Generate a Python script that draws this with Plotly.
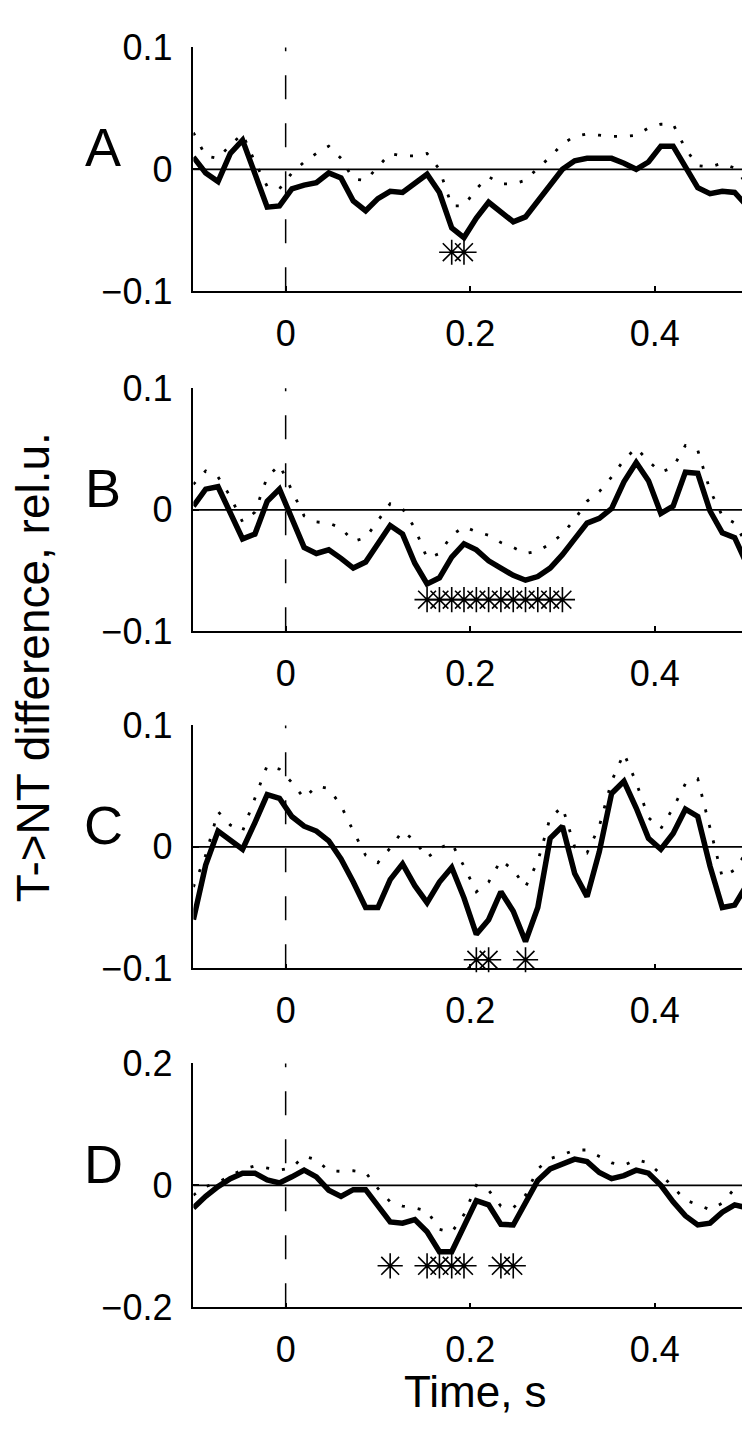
import plotly.graph_objects as go

# ---- data ----
time_s = [-0.1, -0.0867, -0.0733, -0.06, -0.0467, -0.0333, -0.02, -0.0067, 0.0067, 0.02,
          0.0333, 0.0467, 0.06, 0.0733, 0.0867, 0.1, 0.1133, 0.1267, 0.14, 0.1533,
          0.1667, 0.18, 0.1933, 0.2067, 0.22, 0.2333, 0.2467, 0.26, 0.2733, 0.2867,
          0.3, 0.3133, 0.3267, 0.34, 0.3533, 0.3667, 0.38, 0.3933, 0.4067, 0.42,
          0.4333, 0.4467, 0.46, 0.4733, 0.4867, 0.5, 0.5133]

panel_labels = ["A", "B", "C", "D"]

diff_A = [0.010, -0.003, -0.010, 0.013, 0.024, -0.004, -0.031, -0.030, -0.016, -0.013,
          -0.011, -0.003, -0.007, -0.026, -0.034, -0.024, -0.018, -0.019, -0.012, -0.004,
          -0.019, -0.048, -0.056, -0.040, -0.027, -0.035, -0.043, -0.039, -0.026, -0.012,
          0.000, 0.007, 0.009, 0.009, 0.009, 0.005, 0.000, 0.006, 0.019, 0.019,
          0.002, -0.015, -0.020, -0.018, -0.019, -0.030, -0.052]
bound_A = [0.030, 0.011, 0.009, 0.020, 0.029, 0.006, -0.014, -0.016, -0.003, 0.006,
           0.013, 0.019, 0.009, -0.008, -0.009, 0.002, 0.013, 0.011, 0.011, 0.013,
           0.000, -0.030, -0.030, -0.016, -0.006, -0.012, -0.012, -0.009, 0.001, 0.010,
           0.021, 0.027, 0.029, 0.028, 0.027, 0.027, 0.028, 0.034, 0.037, 0.037,
           0.017, 0.003, 0.002, 0.005, 0.001, -0.012, -0.020]

diff_B = [0.003, 0.017, 0.019, -0.003, -0.024, -0.020, 0.007, 0.017, -0.007, -0.031,
          -0.036, -0.033, -0.040, -0.048, -0.043, -0.027, -0.013, -0.020, -0.044, -0.061,
          -0.056, -0.039, -0.028, -0.033, -0.042, -0.048, -0.054, -0.058, -0.055, -0.048,
          -0.037, -0.024, -0.011, -0.007, 0.001, 0.023, 0.039, 0.024, -0.003, 0.003,
          0.031, 0.030, -0.001, -0.019, -0.023, -0.045, -0.074]
bound_B = [0.021, 0.032, 0.027, 0.011, -0.010, -0.002, 0.027, 0.037, 0.016, -0.005,
           -0.010, -0.011, -0.015, -0.026, -0.023, -0.009, 0.005, 0.001, -0.015, -0.040,
           -0.036, -0.021, -0.014, -0.018, -0.021, -0.027, -0.031, -0.036, -0.034, -0.028,
           -0.020, -0.008, 0.007, 0.015, 0.027, 0.041, 0.051, 0.040, 0.031, 0.035,
           0.053, 0.049, 0.016, -0.005, -0.011, -0.029, -0.052]

diff_C = [-0.060, -0.015, 0.013, 0.005, -0.002, 0.020, 0.043, 0.040, 0.025, 0.017,
          0.013, 0.005, -0.010, -0.029, -0.050, -0.050, -0.027, -0.014, -0.032, -0.046,
          -0.029, -0.017, -0.042, -0.072, -0.060, -0.037, -0.053, -0.078, -0.050, 0.007,
          0.017, -0.022, -0.041, -0.004, 0.044, 0.054, 0.032, 0.007, -0.002, 0.011,
          0.031, 0.025, -0.016, -0.050, -0.048, -0.031, -0.031]
bound_C = [-0.033, -0.007, 0.029, 0.018, 0.013, 0.040, 0.067, 0.064, 0.053, 0.040,
           0.050, 0.048, 0.034, 0.013, -0.007, -0.013, -0.001, 0.013, 0.005, -0.009,
           -0.001, 0.003, -0.016, -0.037, -0.029, -0.011, -0.019, -0.033, -0.012, 0.024,
           0.033, 0.000, -0.005, 0.017, 0.054, 0.077, 0.053, 0.024, 0.015, 0.032,
           0.052, 0.056, 0.016, -0.025, -0.019, -0.004, -0.003]

diff_D = [-0.037, -0.018, -0.002, 0.011, 0.020, 0.020, 0.009, 0.004, 0.014, 0.025,
          0.014, -0.008, -0.018, -0.007, -0.007, -0.032, -0.060, -0.062, -0.056, -0.076,
          -0.109, -0.109, -0.066, -0.025, -0.032, -0.064, -0.065, -0.029, 0.008, 0.027,
          0.036, 0.043, 0.039, 0.021, 0.011, 0.016, 0.025, 0.020, 0.000, -0.027,
          -0.050, -0.065, -0.062, -0.044, -0.032, -0.037, -0.046]
bound_D = [-0.016, -0.002, 0.005, 0.016, 0.026, 0.032, 0.028, 0.025, 0.029, 0.048,
           0.042, 0.024, 0.023, 0.024, 0.021, -0.005, -0.027, -0.034, -0.037, -0.042,
           -0.072, -0.077, -0.048, 0.000, -0.008, -0.034, -0.037, -0.016, 0.027, 0.044,
           0.050, 0.058, 0.058, 0.048, 0.037, 0.033, 0.042, 0.037, 0.018, -0.003,
           -0.024, -0.032, -0.040, -0.029, -0.005, -0.016, -0.024]

sig_t_A = [0.18, 0.1933]
sig_t_B = [0.1533, 0.1667, 0.18, 0.1933, 0.2067, 0.22, 0.2333, 0.2467, 0.26, 0.2733, 0.2867, 0.3]
sig_t_C = [0.2067, 0.22, 0.26]
sig_t_D = [0.1133, 0.1533, 0.1667, 0.18, 0.1933, 0.2333, 0.2467]
sig_level = [-0.068, -0.074, -0.093, -0.132]

y_limits = [0.1, 0.1, 0.1, 0.2]
x_ticks = [0, 0.2, 0.4]
x_range = [-0.1, 0.512]

diffs = [diff_A, diff_B, diff_C, diff_D]
bounds = [bound_A, bound_B, bound_C, bound_D]
sigs = [sig_t_A, sig_t_B, sig_t_C, sig_t_D]

# ---- layout geometry (pixels) ----
W, H = 750, 1431
panel_px = [(20, 271), (371, 621), (718, 968), (1066, 1317)]
FONT = "Liberation Sans, Arial, sans-serif"

fig = go.Figure()
layout = dict(
    width=W, height=H,
    margin=dict(l=0, r=0, t=0, b=0),
    paper_bgcolor="white", plot_bgcolor="white",
    showlegend=False,
    font=dict(family=FONT, color="black", size=36),
)
shapes = []
annotations = []

x_left = 185.4 / W
for k in range(4):
    n = "" if k == 0 else str(k + 1)
    xa, ya = "x" + n, "y" + n
    top, bot = panel_px[k]
    dom = [1 - bot / H, 1 - top / H]
    lim = y_limits[k]

    fig.add_trace(go.Scatter(x=time_s, y=bounds[k], mode="lines", xaxis=xa, yaxis=ya,
                             line=dict(color="black", width=2.8, dash="3px,13px"),
                             hoverinfo="skip"))
    fig.add_trace(go.Scatter(x=time_s, y=diffs[k], mode="lines", xaxis=xa, yaxis=ya,
                             line=dict(color="black", width=5.5), hoverinfo="skip"))
    fig.add_trace(go.Scatter(x=sigs[k], y=[sig_level[k]] * len(sigs[k]), mode="markers",
                             xaxis=xa, yaxis=ya, cliponaxis=False,
                             marker=dict(symbol="asterisk-open", size=21, color="black",
                                         line=dict(color="black", width=1.6)),
                             hoverinfo="skip"))

    layout["xaxis" + n] = dict(
        domain=[x_left, 1], range=x_range, anchor=ya,
        tickvals=x_ticks, ticktext=["0", "0.2", "0.4"],
        ticks="inside", ticklen=5, tickwidth=1.5, tickcolor="black",
        showline=True, linecolor="black", linewidth=1.5,
        showgrid=False, zeroline=False, ticklabelstandoff=10,
        tickfont=dict(size=36, family=FONT, color="black"),
    )
    layout["yaxis" + n] = dict(
        domain=dom, range=[-lim, lim], anchor=xa,
        tickvals=[-lim, 0, lim],
        ticks="inside", ticklen=6, tickwidth=1.5, tickcolor="black",
        showline=True, linecolor="black", linewidth=1.5,
        showgrid=False, zeroline=False, ticklabelstandoff=12,
        tickfont=dict(size=36, family=FONT, color="black"),
    )
    # horizontal zero line
    shapes.append(dict(type="line", xref=xa + " domain", yref=ya, x0=0, x1=1, y0=0, y1=0,
                       line=dict(color="black", width=1.8), layer="below"))
    # dashed stimulus-onset line
    shapes.append(dict(type="line", xref=xa, yref=ya + " domain", x0=0, x1=0, y0=0, y1=1,
                       line=dict(color="black", width=1.5, dash="24px,24px"), layer="below"))
    # panel letter
    annotations.append(dict(text=panel_labels[k], xref="paper", yref=ya + " domain",
                            x=95 / W, y=1 - 103 / (bot - top), xanchor="center", yanchor="middle",
                            showarrow=False, font=dict(size=54, family=FONT, color="black")))

annotations.append(dict(text="T->NT difference, rel.u.", xref="paper", yref="paper",
                        x=25 / W, y=1 - 658 / H, textangle=-90, xanchor="center", yanchor="middle",
                        showarrow=False, font=dict(size=46, family=FONT, color="black")))
annotations.append(dict(text="Time, s", xref="paper", yref="paper",
                        x=467.5 / W, y=1 - 1404 / H, xanchor="center", yanchor="middle",
                        showarrow=False, font=dict(size=44, family=FONT, color="black")))

layout["shapes"] = shapes
layout["annotations"] = annotations
fig.update_layout(**layout)
fig.write_html("out.html")
